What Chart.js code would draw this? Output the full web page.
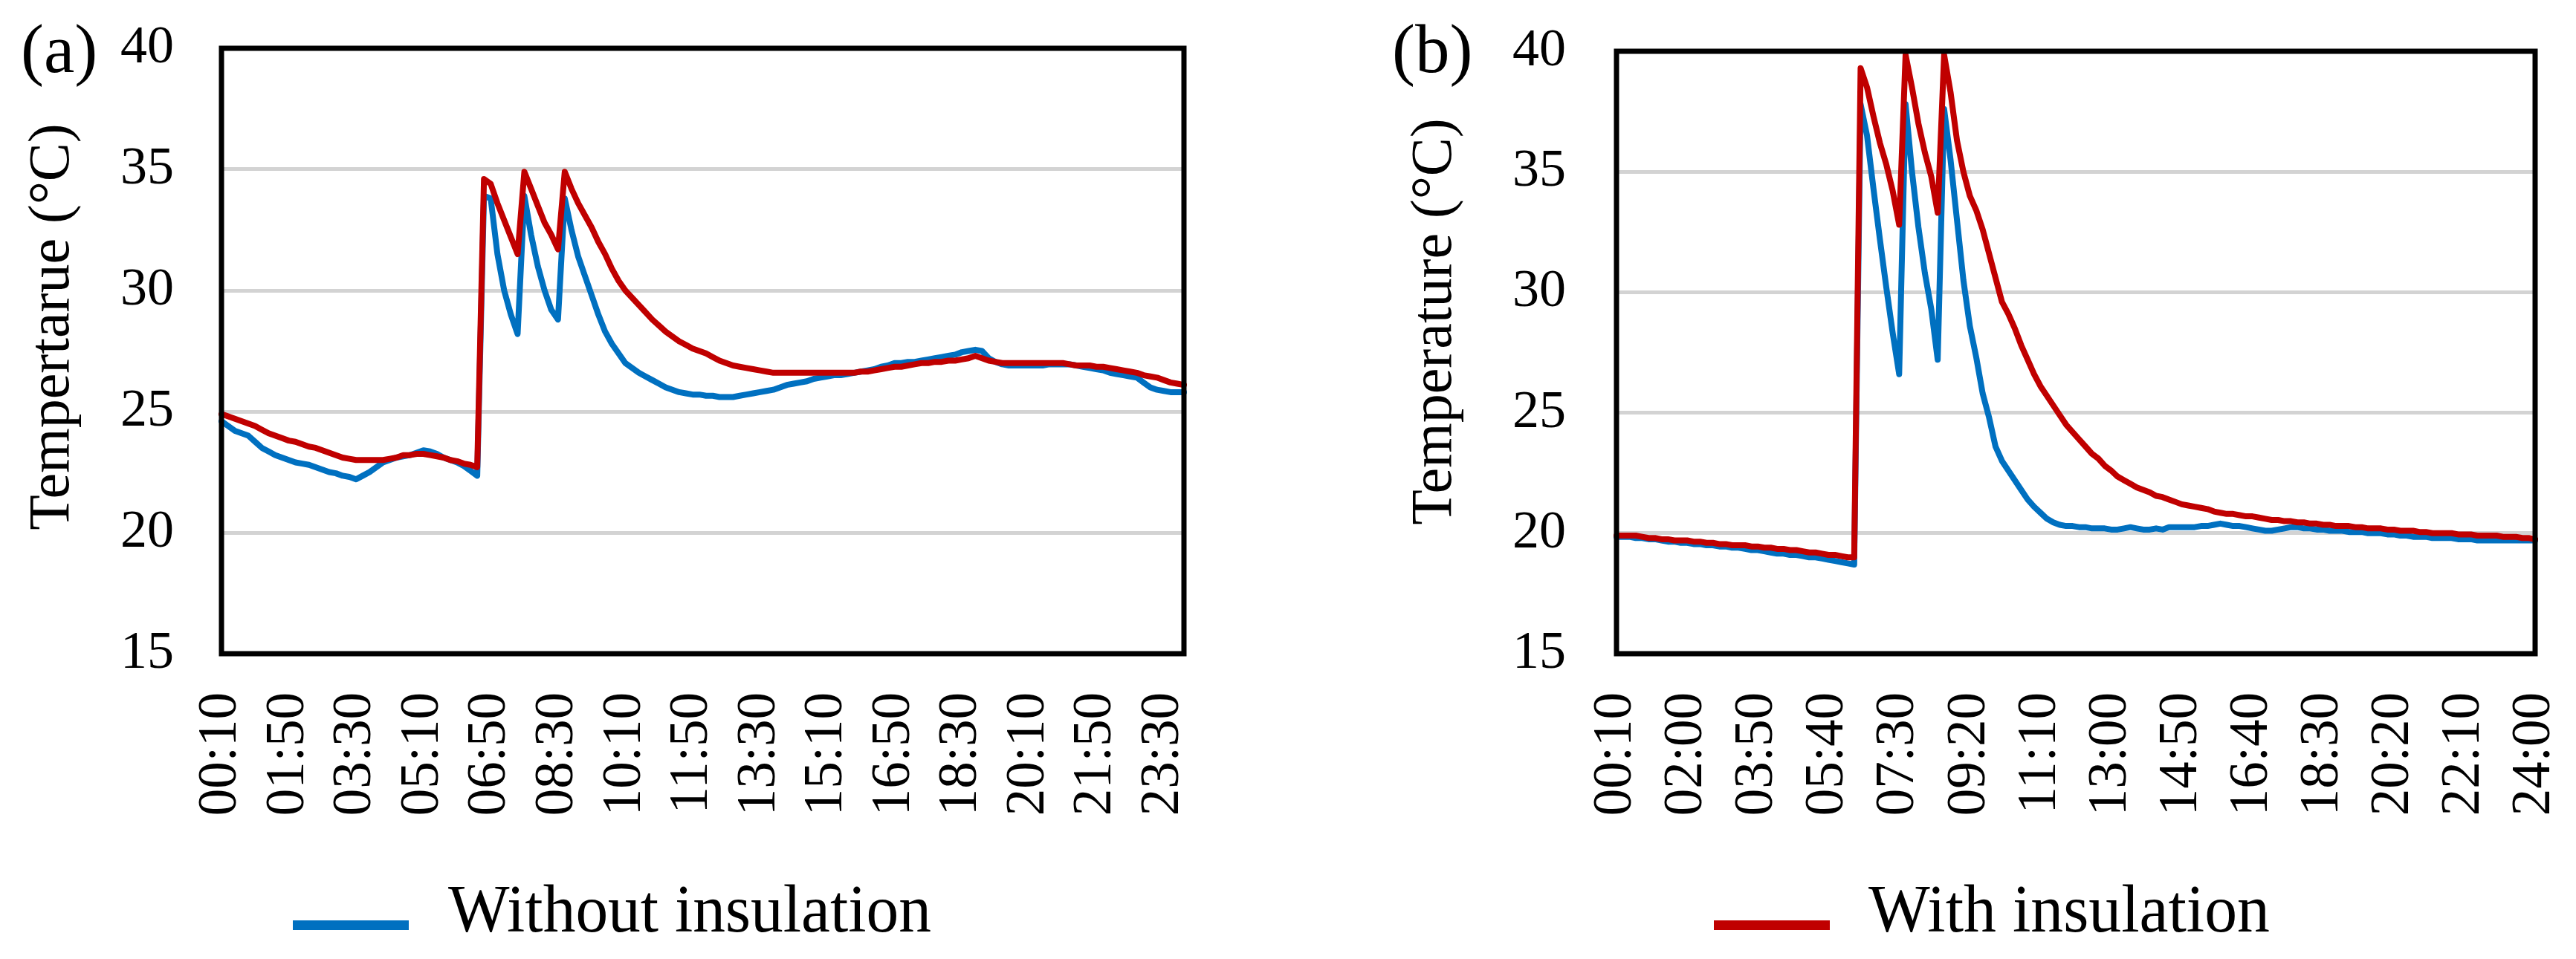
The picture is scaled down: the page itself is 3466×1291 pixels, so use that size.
<!DOCTYPE html>
<html>
<head>
<meta charset="utf-8">
<script src="https://cdn.jsdelivr.net/npm/chart.js@4.4.1/dist/chart.umd.min.js"></script>
<style>
    body { margin: 0; background: #fff; width: 3466px; height: 1291px; position: relative; overflow: hidden; font-family: 'Liberation Serif', serif; color: #000; }
    canvas { position: absolute; top: 0; }
    #chartA { left: 0; }
    #chartB { left: 1733px; }
    .panel { position: absolute; top: 19px; font-size: 93px; line-height: 1; }
    .key { position: absolute; top: 1239px; height: 13px; }
    .keytext { position: absolute; font-size: 90px; line-height: 1; white-space: nowrap; transform-origin: 0 0; }
</style>
</head>
<body>
<canvas id="chartA" width="1733" height="1130"></canvas>
<canvas id="chartB" width="1733" height="1130"></canvas>
<div class="panel" style="left:28px">(a)</div>
<div class="panel" style="left:1873px">(b)</div>
<div class="key" style="left:394px; width:156px; background:#0070C0"></div>
<div class="keytext" id="keyA" style="left:603px">Without insulation</div>
<div class="key" style="left:2306px; width:156px; background:#C00000"></div>
<div class="keytext" id="keyB" style="left:2514px">With insulation</div>

<script>
// Datos: registros cada 10 minutos
const times = [
    "00:10","00:20","00:30","00:40","00:50",
    "01:00","01:10","01:20","01:30","01:40","01:50",
    "02:00","02:10","02:20","02:30","02:40","02:50",
    "03:00","03:10","03:20","03:30","03:40","03:50",
    "04:00","04:10","04:20","04:30","04:40","04:50",
    "05:00","05:10","05:20","05:30","05:40","05:50",
    "06:00","06:10","06:20","06:30","06:40","06:50",
    "07:00","07:10","07:20","07:30","07:40","07:50",
    "08:00","08:10","08:20","08:30","08:40","08:50",
    "09:00","09:10","09:20","09:30","09:40","09:50",
    "10:00","10:10","10:20","10:30","10:40","10:50",
    "11:00","11:10","11:20","11:30","11:40","11:50",
    "12:00","12:10","12:20","12:30","12:40","12:50",
    "13:00","13:10","13:20","13:30","13:40","13:50",
    "14:00","14:10","14:20","14:30","14:40","14:50",
    "15:00","15:10","15:20","15:30","15:40","15:50",
    "16:00","16:10","16:20","16:30","16:40","16:50",
    "17:00","17:10","17:20","17:30","17:40","17:50",
    "18:00","18:10","18:20","18:30","18:40","18:50",
    "19:00","19:10","19:20","19:30","19:40","19:50",
    "20:00","20:10","20:20","20:30","20:40","20:50",
    "21:00","21:10","21:20","21:30","21:40","21:50",
    "22:00","22:10","22:20","22:30","22:40","22:50",
    "23:00","23:10","23:20","23:30","23:40","23:50",
    "24:00"
];

const ticksA = ["00:10","01:50","03:30","05:10","06:50","08:30","10:10","11:50","13:30","15:10","16:50","18:30","20:10","21:50","23:30"];
const ticksB = ["00:10","02:00","03:50","05:40","07:30","09:20","11:10","13:00","14:50","16:40","18:30","20:20","22:10","24:00"];
const yTicks = [15, 20, 25, 30, 35, 40];

// (a) con aislamiento
const withA = [
    24.9, 24.8, 24.7, 24.6, 24.5, 24.4, 24.25, 24.1, 24.0, 23.9,
    23.8, 23.75, 23.65, 23.55, 23.5, 23.4, 23.3, 23.2, 23.1, 23.05,
    23.0, 23.0, 23.0, 23.0, 23.0, 23.05, 23.1, 23.2, 23.2, 23.25,
    23.25, 23.2, 23.15, 23.1, 23.0, 22.95, 22.85, 22.8, 22.7, 34.6,
    34.4, 33.6, 32.9, 32.2, 31.5, 34.9, 34.2, 33.5, 32.8, 32.3,
    31.7, 34.9, 34.2, 33.6, 33.1, 32.6, 32.0, 31.5, 30.9, 30.4,
    30.0, 29.7, 29.4, 29.1, 28.8, 28.55, 28.3, 28.1, 27.9, 27.75,
    27.6, 27.5, 27.4, 27.25, 27.1, 27.0, 26.9, 26.85, 26.8, 26.75,
    26.7, 26.65, 26.6, 26.6, 26.6, 26.6, 26.6, 26.6, 26.6, 26.6,
    26.6, 26.6, 26.6, 26.6, 26.6, 26.65, 26.65, 26.7, 26.75, 26.8,
    26.85, 26.85, 26.9, 26.95, 27.0, 27.0, 27.05, 27.05, 27.1, 27.1,
    27.15, 27.2, 27.3, 27.2, 27.1, 27.05, 27.0, 27.0, 27.0, 27.0,
    27.0, 27.0, 27.0, 27.0, 27.0, 27.0, 26.95, 26.9, 26.9, 26.9,
    26.85, 26.85, 26.8, 26.75, 26.7, 26.65, 26.6, 26.5, 26.45, 26.4,
    26.3, 26.2, 26.15, 26.1
];

// (a) sin aislamiento
const withoutA = [
    24.6, 24.4, 24.2, 24.1, 24.0, 23.75, 23.5, 23.35, 23.2, 23.1,
    23.0, 22.9, 22.85, 22.8, 22.7, 22.6, 22.5, 22.45, 22.35, 22.3,
    22.2, 22.35, 22.5, 22.7, 22.9, 23.0, 23.1, 23.15, 23.2, 23.3,
    23.4, 23.35, 23.25, 23.1, 23.0, 22.9, 22.75, 22.55, 22.35, 33.9,
    33.8, 31.5, 30.0, 29.0, 28.2, 33.9, 32.3, 31.0, 30.0, 29.2,
    28.8, 33.8, 32.5, 31.4, 30.6, 29.8, 29.0, 28.3, 27.8, 27.4,
    27.0, 26.8, 26.6, 26.45, 26.3, 26.15, 26.0, 25.9, 25.8, 25.75,
    25.7, 25.7, 25.65, 25.65, 25.6, 25.6, 25.6, 25.65, 25.7, 25.75,
    25.8, 25.85, 25.9, 26.0, 26.1, 26.15, 26.2, 26.25, 26.35, 26.4,
    26.45, 26.5, 26.5, 26.55, 26.6, 26.65, 26.7, 26.75, 26.85, 26.9,
    27.0, 27.0, 27.05, 27.05, 27.1, 27.15, 27.2, 27.25, 27.3, 27.35,
    27.45, 27.5, 27.55, 27.5, 27.2, 27.05, 26.95, 26.9, 26.9, 26.9,
    26.9, 26.9, 26.9, 26.95, 26.95, 26.95, 26.95, 26.9, 26.85, 26.8,
    26.75, 26.7, 26.6, 26.55, 26.5, 26.45, 26.4, 26.2, 26.0, 25.9,
    25.85, 25.8, 25.8, 25.8
];

// (b) con aislamiento
const withB = [
    19.9, 19.9, 19.9, 19.9, 19.85, 19.8, 19.8, 19.75, 19.75, 19.7,
    19.7, 19.7, 19.65, 19.65, 19.6, 19.6, 19.55, 19.55, 19.5, 19.5,
    19.5, 19.45, 19.45, 19.4, 19.4, 19.35, 19.35, 19.3, 19.3, 19.25,
    19.2, 19.2, 19.15, 19.1, 19.1, 19.05, 19.0, 19.0, 39.3, 38.5,
    37.3, 36.2, 35.3, 34.2, 32.8, 39.85, 38.5, 37.0, 35.8, 34.8,
    33.3, 39.85, 38.3, 36.3, 35.0, 34.0, 33.4, 32.6, 31.6, 30.6,
    29.6, 29.1, 28.5, 27.8, 27.2, 26.6, 26.1, 25.7, 25.3, 24.9,
    24.5, 24.2, 23.9, 23.6, 23.3, 23.1, 22.8, 22.6, 22.35, 22.2,
    22.05, 21.9, 21.8, 21.7, 21.55, 21.5, 21.4, 21.3, 21.2, 21.15,
    21.1, 21.05, 21.0, 20.9, 20.85, 20.8, 20.8, 20.75, 20.7, 20.7,
    20.65, 20.6, 20.55, 20.55, 20.5, 20.5, 20.45, 20.45, 20.4, 20.4,
    20.35, 20.35, 20.3, 20.3, 20.3, 20.25, 20.25, 20.2, 20.2, 20.2,
    20.15, 20.15, 20.1, 20.1, 20.1, 20.05, 20.05, 20.0, 20.0, 20.0,
    20.0, 19.95, 19.95, 19.95, 19.9, 19.9, 19.9, 19.9, 19.85, 19.85,
    19.85, 19.8, 19.8, 19.75
];

// (b) sin aislamiento
const withoutB = [
    19.85, 19.85, 19.85, 19.8, 19.8, 19.75, 19.75, 19.7, 19.65, 19.65,
    19.6, 19.6, 19.55, 19.55, 19.5, 19.5, 19.45, 19.45, 19.4, 19.4,
    19.35, 19.3, 19.3, 19.25, 19.2, 19.15, 19.15, 19.1, 19.1, 19.05,
    19.0, 19.0, 18.95, 18.9, 18.85, 18.8, 18.75, 18.7, 37.8, 36.5,
    34.3, 32.2, 30.2, 28.3, 26.6, 37.8, 35.0, 32.7, 30.8, 29.3,
    27.2, 37.6, 35.5, 33.0, 30.5, 28.6, 27.3, 25.8, 24.8, 23.6,
    23.0, 22.6, 22.2, 21.8, 21.4, 21.1, 20.85, 20.6, 20.45, 20.35,
    20.3, 20.3, 20.25, 20.25, 20.2, 20.2, 20.2, 20.15, 20.15, 20.2,
    20.25, 20.2, 20.15, 20.15, 20.2, 20.15, 20.25, 20.25, 20.25, 20.25,
    20.25, 20.3, 20.3, 20.35, 20.4, 20.35, 20.3, 20.3, 20.25, 20.2,
    20.15, 20.1, 20.1, 20.15, 20.2, 20.25, 20.25, 20.2, 20.2, 20.15,
    20.15, 20.1, 20.1, 20.1, 20.05, 20.05, 20.05, 20.0, 20.0, 20.0,
    19.95, 19.95, 19.9, 19.9, 19.85, 19.85, 19.85, 19.8, 19.8, 19.8,
    19.8, 19.75, 19.75, 19.75, 19.7, 19.7, 19.7, 19.7, 19.7, 19.7,
    19.7, 19.7, 19.7, 19.7
];

Chart.defaults.font.family = "'Liberation Serif', serif";
Chart.defaults.color = '#000';

// Marco negro alrededor del area del grafico
const framePlugin = {
    id: 'frame',
    afterDraw(chart) {
        const { ctx, chartArea: a } = chart;
        ctx.save();
        ctx.strokeStyle = '#000';
        ctx.lineWidth = 7;
        ctx.strokeRect(a.left, a.top, a.right - a.left, a.bottom - a.top);
        ctx.restore();
    }
};

// Titulo del eje Y (un poco por encima del centro, como en el original)
const yTitlePlugin = {
    id: 'yTitle',
    afterDraw(chart, args, opts) {
        const ctx = chart.ctx;
        ctx.save();
        ctx.translate(opts.x, opts.y);
        ctx.rotate(-Math.PI / 2);
        ctx.font = opts.size + "px 'Liberation Serif', serif";
        ctx.fillStyle = '#000';
        ctx.textAlign = 'center';
        ctx.textBaseline = 'middle';
        ctx.fillText(opts.text, 0, 0);
        ctx.restore();
    }
};

function makeChart(id, cfg) {
    return new Chart(document.getElementById(id), {
        type: 'line',
        data: {
            labels: times,
            datasets: [
                { label: 'With insulation', data: cfg.withData, borderColor: '#C00000', borderWidth: 8 },
                { label: 'Without insulation', data: cfg.withoutData, borderColor: '#0070C0', borderWidth: 8 }
            ]
        },
        options: {
            responsive: false,
            animation: false,
            devicePixelRatio: 1,
            layout: { padding: cfg.padding },
            elements: { point: { radius: 0 }, line: { tension: 0, borderJoinStyle: 'round', borderCapStyle: 'round' } },
            plugins: {
                legend: { display: false },
                tooltip: { enabled: false },
                yTitle: { text: cfg.yTitle, x: cfg.titleX, y: cfg.titleY, size: 78 }
            },
            scales: {
                x: {
                    offset: false,
                    grid: { display: false },
                    border: { display: false },
                    ticks: {
                        autoSkip: false,
                        minRotation: 90,
                        maxRotation: 90,
                        padding: 44,
                        font: { size: 73 },
                        callback: function(value, index) {
                            return cfg.ticks.includes(times[index]) ? times[index] : null;
                        }
                    },
                    afterFit: function(scale) {
                        scale.height = 250;
                        scale.paddingLeft = 0;
                        scale.paddingRight = 0;
                    }
                },
                y: {
                    min: yTicks[0],
                    max: yTicks[yTicks.length - 1],
                    grid: { color: '#d3d3d3', lineWidth: 5, drawTicks: false },
                    border: { display: false },
                    ticks: { stepSize: 5, padding: cfg.tickPad, font: { size: 72 } },
                    afterFit: function(scale) {
                        scale.width = cfg.yWidth;
                        scale.paddingTop = 0;
                        scale.paddingBottom = 0;
                    }
                }
            }
        },
        plugins: [framePlugin, yTitlePlugin]
    });
}

makeChart('chartA', {
    withData: withA, withoutData: withoutA, ticks: ticksA,
    yTitle: 'Tempertarue (°C)', titleX: 72, titleY: 440,
    padding: { left: 24, top: 65, right: 140, bottom: 0 },
    yWidth: 274, tickPad: 64
});

makeChart('chartB', {
    withData: withB, withoutData: withoutB, ticks: ticksB,
    yTitle: 'Temperature (°C)', titleX: 199, titleY: 433,
    padding: { left: 151, top: 69, right: 55, bottom: 0 },
    yWidth: 291, tickPad: 68
});

// Texto de la leyenda: letra alta y estrecha como en el original
function fitKey(id, width) {
    const el = document.getElementById(id);
    const w = el.getBoundingClientRect().width;
    el.style.transform = 'scaleX(' + (width / w) + ')';
    el.style.top = (1254 - 0.8375 * 90) + 'px';
}
fitKey('keyA', 650);
fitKey('keyB', 540);
</script>
</body>
</html>
